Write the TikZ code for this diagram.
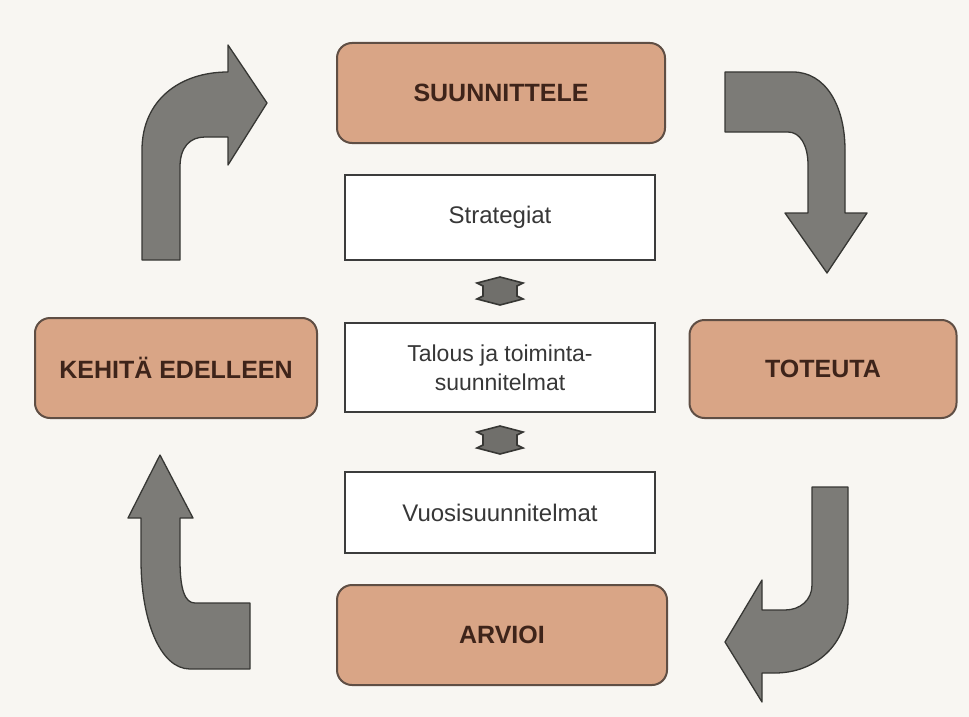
\documentclass[tikz,border=0pt]{standalone}
\usepackage{fontspec}
\setmainfont{Liberation Sans}
\definecolor{bgc}{RGB}{248,246,242}
\definecolor{tanfill}{RGB}{217,165,134}
\definecolor{tanline}{RGB}{95,78,68}
\definecolor{tantext}{RGB}{62,36,26}
\definecolor{arrowfill}{RGB}{124,123,119}
\definecolor{arrowline}{RGB}{55,55,52}
\definecolor{boxline}{RGB}{60,60,60}
\definecolor{boxtext}{RGB}{55,55,55}
\tikzset{
  phase/.style={draw=tanline, line width=2pt, fill=tanfill, rounded corners=15pt,
    text=tantext, font=\fontsize{25}{28}\selectfont\bfseries, align=center, inner sep=0pt},
  planbox/.style={draw=boxline, line width=2.2pt, fill=white, text=boxtext,
    font=\fontsize{24}{29}\selectfont, align=center, inner sep=0pt,
    minimum width=310pt},
  bigarrow/.style={draw=arrowline, line width=1.3pt, fill=arrowfill, line join=round},
  smallarrow/.style={draw=arrowline, line width=1.6pt, fill=arrowfill!90!black, line join=miter}
}
\begin{document}
\begin{tikzpicture}[x=1pt,y=-1pt]
\useasboundingbox (0,0) rectangle (969,717);
\fill[bgc] (0,0) rectangle (969,717);

% phase boxes
\node[phase, minimum width=328pt, minimum height=100pt] (plan) at (501,93) {SUUNNITTELE};
\node[phase, minimum width=267pt, minimum height=98pt] (do) at (823,369) {TOTEUTA};
\node[phase, minimum width=330pt, minimum height=100pt] (eval) at (502,635) {ARVIOI};
\node[phase, minimum width=282pt, minimum height=100pt] (dev) at (176,368) {KEHITÄ EDELLEEN};

% plan boxes
\node[planbox, minimum height=85pt] (strat) at (500,217.5) {Strategiat};
\node[planbox, minimum height=89pt, font=\fontsize{23}{29}\selectfont] (talous) at (500,367.5) {Talous ja toiminta-\\suunnitelmat};
\node[planbox, minimum height=81pt] (vuosi) at (500,512.5) {Vuosisuunnitelmat};

% small double arrows between plan boxes
\foreach \cy/\nm in {291/darrA, 440/darrB}{
  \coordinate (\nm) at (500,\cy);
  \draw[smallarrow] ([shift={(-23,-8)}]\nm) -- ([shift={(0,-14)}]\nm) -- ([shift={(23,-8)}]\nm)
    -- ([shift={(17,-5)}]\nm) -- ([shift={(17,5)}]\nm) -- ([shift={(23,8)}]\nm)
    -- ([shift={(0,14)}]\nm) -- ([shift={(-23,8)}]\nm) -- ([shift={(-17,5)}]\nm)
    -- ([shift={(-17,-5)}]\nm) -- cycle;
}

% big curved arrows
% top-left: up then right
\draw[bigarrow] (142,260) -- (142,150) .. controls (142,100) and (180,72) .. (228,72)
  -- (228,45) -- (267,103) -- (228,165) -- (228,137) -- (205,137)
  .. controls (190,137) and (180,147) .. (180,167) -- (180,260) -- cycle;
% top-right: right then down
\draw[bigarrow] (725,72) -- (793,72) .. controls (825,72) and (845,105) .. (845,150)
  -- (845,213) -- (867,213) -- (827,273) -- (785,213) -- (808,213) -- (808,165)
  .. controls (808,145) and (800,132) .. (788,132) -- (725,132) -- cycle;
% bottom-right: down then left
\draw[bigarrow] (812,487) -- (848,487) -- (848,600) .. controls (848,645) and (815,673) .. (775,673)
  -- (762,673) -- (762,702) -- (725,642) -- (762,580) -- (762,610) -- (785,610)
  .. controls (800,610) and (812,600) .. (812,585) -- cycle;
% bottom-left: left then up
\draw[bigarrow] (250,603) -- (250,669) -- (190,669) .. controls (160,669) and (141,620) .. (141,560)
  -- (141,518) -- (128,518) -- (160,455) -- (193,518) -- (180,518) -- (180,560)
  .. controls (180,590) and (185,603) .. (195,603) -- cycle;
\end{tikzpicture}
\end{document}
